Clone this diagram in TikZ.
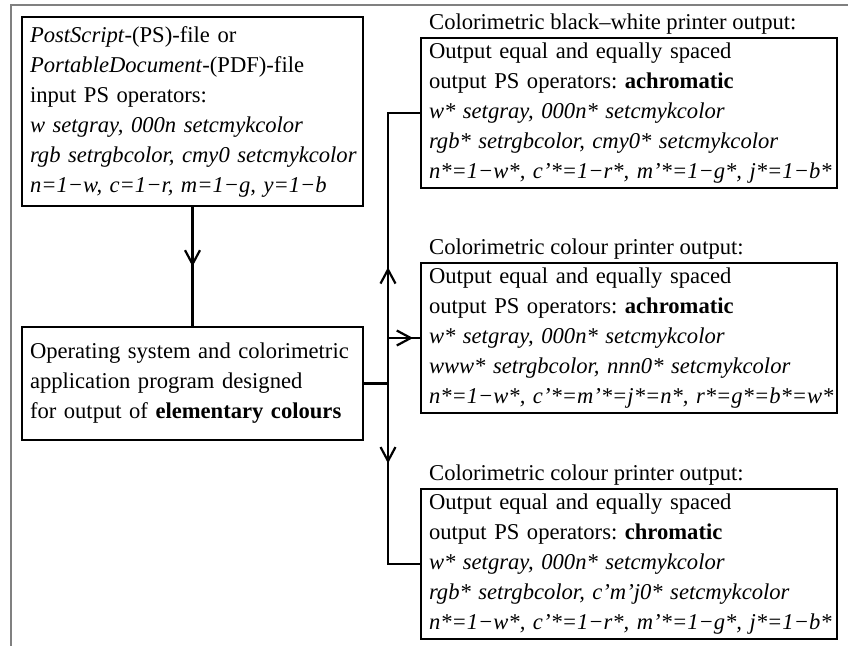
\documentclass[tikz,border=0pt]{standalone}
\usepackage{fontspec}
\setmainfont{Liberation Serif}
\usetikzlibrary{arrows.meta,decorations.markings}
\frenchspacing
\begin{document}
\begin{tikzpicture}[x=1pt,y=-1pt,
  box/.style={draw, line width=2.2pt, anchor=north west, align=left, outer sep=0pt,
    inner xsep=8pt, inner ysep=0pt, font=\fontsize{22.6pt}{30pt}\selectfont},
  ttl/.style={anchor=base west, inner sep=0pt, font=\fontsize{22.6pt}{30pt}\selectfont},
  conn/.style={line width=2.2pt},
  midtip/.style={decoration={markings, mark=at position #1 with {\arrow{Straight Barb[length=14pt,width=15pt]}}}, postaction={decorate}},
  framel/.style={draw=gray, line width=2pt}]
\useasboundingbox (0,0) rectangle (848,646);
\draw[framel] (848,5) -- (11,5) -- (11,646);

\node[box, minimum width=341pt, minimum height=189pt, text width=325pt] (in) at (22,17)
 {\textit{PostScript}-(PS)-file or\\
  \textit{PortableDocument}-(PDF)-file\\
  input PS operators:\\
  \mbox{\textit{w setgray, 000n setcmykcolor}}\\
  \mbox{\textit{rgb setrgbcolor, cmy0 setcmykcolor}}\\
  \mbox{\textit{n=1−w, c=1−r, m=1−g, y=1−b}}};

\node[box, minimum width=341pt, minimum height=113pt, text width=325pt] (os) at (22,327)
 {Operating system and colorimetric\\
  application program designed\\
  for output of \textbf{elementary colours}};

\node[box, minimum width=416pt, minimum height=150pt, text width=400pt] (bw) at (421,38)
 {Output equal and equally spaced\\
  output PS operators: \textbf{achromatic}\\
  \mbox{\textit{w* setgray, 000n* setcmykcolor}}\\
  \mbox{\textit{rgb* setrgbcolor, cmy0* setcmykcolor}}\\
  \mbox{\textit{n*=1−w*, c'*=1−r*, m'*=1−g*, j*=1−b*}}};

\node[box, minimum width=416pt, minimum height=150pt, text width=400pt] (ca) at (421,263)
 {Output equal and equally spaced\\
  output PS operators: \textbf{achromatic}\\
  \mbox{\textit{w* setgray, 000n* setcmykcolor}}\\
  \mbox{\textit{www* setrgbcolor, nnn0* setcmykcolor}}\\
  \mbox{\textit{n*=1−w*, c'*=m'*=j*=n*, r*=g*=b*=w*}}};

\node[box, minimum width=416pt, minimum height=150pt, text width=400pt] (cc) at (421,489)
 {Output equal and equally spaced\\
  output PS operators: \textbf{chromatic}\\
  \mbox{\textit{w* setgray, 000n* setcmykcolor}}\\
  \mbox{\textit{rgb* setrgbcolor, c'm'j0* setcmykcolor}}\\
  \mbox{\textit{n*=1−w*, c'*=1−r*, m'*=1−g*, j*=1−b*}}};

\node[ttl] (t1) at ([shift={(8pt,9pt)}]bw.north west) {Colorimetric black–white printer output:};
\node[ttl] (t2) at ([shift={(8pt,9pt)}]ca.north west) {Colorimetric colour printer output:};
\node[ttl] (t3) at ([shift={(8pt,9pt)}]cc.north west) {Colorimetric colour printer output:};

\coordinate (xj) at (388,0);
\coordinate (j) at (os.east -| xj);
\draw[conn, midtip=0.5] (in.south) -- (os.north);
\draw[conn] (os.east) -- (j);
\draw[conn, midtip=0.383] (j) |- (bw.west);
\draw[conn, midtip=0.76] (j |- ca.west) -- (ca.west);
\draw[conn, midtip=0.374] (j) |- (cc.west);
\end{tikzpicture}
\end{document}
